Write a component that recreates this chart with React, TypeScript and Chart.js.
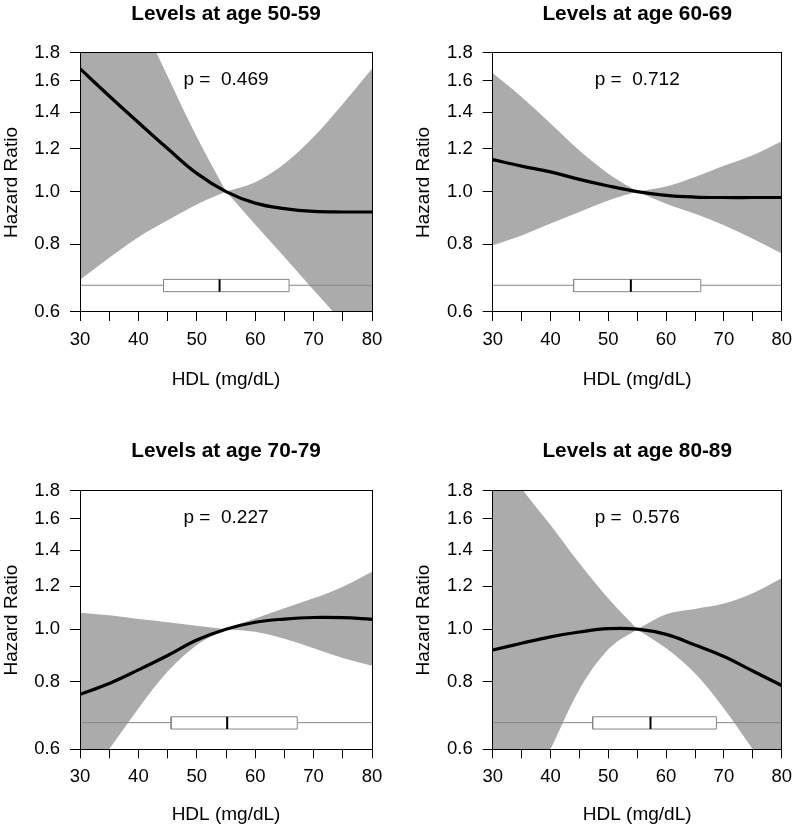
import React, { useEffect, useRef } from 'react';
import { Chart, registerables } from 'chart.js';

Chart.register(...registerables);
Chart.defaults.font.family = "'Liberation Sans', Arial, Helvetica, sans-serif";
Chart.defaults.color = '#000';

// ---------- data ----------
const HDL_X = [30, 35, 40, 45, 50, 55, 60, 65, 70, 75, 80];
const HDL_LEFT = [30, 35, 40, 45, 50, 55];
const HDL_RIGHT = [55, 60, 65, 70, 75, 80];
const Y_TICKS = [0.6, 0.8, 1.0, 1.2, 1.4, 1.6, 1.8];

const TITLES = ['Levels at age 50-59', 'Levels at age 60-69', 'Levels at age 70-79', 'Levels at age 80-89'];
const P_TEXT = ['p =  0.469', 'p =  0.712', 'p =  0.227', 'p =  0.576'];

// hazard ratio curves
const HR_50 = [1.684, 1.50, 1.34, 1.20, 1.08, 1.0, 0.952, 0.930, 0.919, 0.917, 0.917];
const HR_60 = [1.145, 1.114, 1.087, 1.053, 1.024, 1.0, 0.984, 0.977, 0.975, 0.975, 0.975];
const HR_70 = [0.758, 0.794, 0.841, 0.894, 0.955, 1.0, 1.030, 1.044, 1.051, 1.050, 1.043];
const HR_80 = [0.915, 0.942, 0.968, 0.988, 1.002, 1.0, 0.978, 0.935, 0.890, 0.837, 0.787];

// confidence band, left of reference (30..55)
const UPPER_L_50 = [3.8, 2.84, 2.13, 1.63, 1.26, 1.0];
const LOWER_L_50 = [0.688, 0.755, 0.824, 0.885, 0.947, 1.0];
const UPPER_L_60 = [1.654, 1.494, 1.335, 1.19, 1.079, 1.0];
const LOWER_L_60 = [0.796, 0.830, 0.873, 0.917, 0.963, 1.0];
const UPPER_L_70 = [1.072, 1.061, 1.044, 1.030, 1.015, 1.0];
const LOWER_L_70 = [0.504, 0.6, 0.714, 0.835, 0.935, 1.0];
const UPPER_L_80 = [2.19, 1.82, 1.557, 1.323, 1.139, 1.0];
const LOWER_L_80 = [0.37, 0.47, 0.6, 0.774, 0.918, 1.0];

// confidence band, right of reference (55..80)
const UPPER_R_50 = [1.0, 1.04, 1.125, 1.26, 1.45, 1.684];
const LOWER_R_50 = [1.0, 0.870, 0.758, 0.659, 0.574, 0.50];
const UPPER_R_60 = [1.0, 1.022, 1.064, 1.116, 1.167, 1.238];
const LOWER_R_60 = [1.0, 0.950, 0.910, 0.867, 0.819, 0.769];
const UPPER_R_70 = [1.0, 1.047, 1.093, 1.14, 1.198, 1.277];
const LOWER_R_70 = [1.0, 0.989, 0.96, 0.922, 0.885, 0.856];
const UPPER_R_80 = [1.0, 1.066, 1.09, 1.115, 1.165, 1.242];
const LOWER_R_80 = [1.0, 0.922, 0.829, 0.714, 0.6, 0.5];

// HDL distribution boxplot (quartiles, median, whisker ends)
const BOX_Q1 = [44.3, 44.0, 45.6, 47.3];
const BOX_MED = [53.9, 53.9, 55.2, 57.3];
const BOX_Q3 = [65.8, 66.0, 67.2, 68.7];
const WHISKER_MIN = [30, 30, 30, 30];
const WHISKER_MAX = [80, 80, 80, 80];

const SERIES = [
  { hr: HR_50, ul: UPPER_L_50, ll: LOWER_L_50, ur: UPPER_R_50, lr: LOWER_R_50 },
  { hr: HR_60, ul: UPPER_L_60, ll: LOWER_L_60, ur: UPPER_R_60, lr: LOWER_R_60 },
  { hr: HR_70, ul: UPPER_L_70, ll: LOWER_L_70, ur: UPPER_R_70, lr: LOWER_R_70 },
  { hr: HR_80, ul: UPPER_L_80, ll: LOWER_L_80, ur: UPPER_R_80, lr: LOWER_R_80 },
];

// ---------- layout / style ----------
const BOX_LEVEL = 0.672;
const BOX_LO = 0.654;
const BOX_HI = 0.689;
const P_POS = { x: 55, y: 1.57 };

const PANELS = [
  { left: 0, top: 0, h: 415, plotL: 80, plotR: 372, plotB: 312, tTop: 2, tBot: 27, xPad: 24, yPad: 0 },
  { left: 400, top: 0, h: 415, plotL: 92.7, plotR: 384.3, plotB: 312, tTop: 2, tBot: 27, xPad: 24, yPad: 12.6 },
  { left: 0, top: 415, h: 416, plotL: 80, plotR: 372, plotB: 334.3, tTop: 24.4, tBot: 27.6, xPad: 4.6, yPad: 0 },
  { left: 400, top: 415, h: 416, plotL: 92.7, plotR: 384.3, plotB: 334.3, tTop: 24.4, tBot: 27.6, xPad: 4.6, yPad: 12.6 },
];

const BAND = '#ababab';
const BOX_COLOR = '#868686';

const pts = (xs: number[], ys: number[]) => xs.map((x, i) => ({ x, y: ys[i] }));

const align = (v: number) => Math.round(v - 0.5) + 0.5;

const framePlugin = {
  id: 'frame',
  afterDatasetsDraw(chart: any) {
    const { ctx, chartArea: a } = chart;
    ctx.save();
    ctx.strokeStyle = '#000';
    ctx.lineWidth = 1;
    const l = align(a.left), r = align(a.right), t = align(a.top), b = align(a.bottom);
    ctx.strokeRect(l, t, r - l, b - t);
    ctx.restore();
  },
};

const pTextPlugin = {
  id: 'pText',
  afterDatasetsDraw(chart: any, _args: any, opts: any) {
    const { ctx, scales } = chart;
    ctx.save();
    ctx.font = "19px 'Liberation Sans', Arial, sans-serif";
    ctx.fillStyle = '#000';
    ctx.textAlign = 'center';
    ctx.textBaseline = 'alphabetic';
    ctx.fillText(opts.text, scales.x.getPixelForValue(opts.x), scales.y.getPixelForValue(opts.y));
    ctx.restore();
  },
};

function Panel({ idx }: { idx: number }) {
  const ref = useRef<HTMLCanvasElement | null>(null);
  const p = PANELS[idx];
  useEffect(() => {
    const s = SERIES[idx];
    const bandLine = {
      type: 'line',
      borderWidth: 0,
      borderColor: 'rgba(0,0,0,0)',
      backgroundColor: BAND,
      pointRadius: 0,
      cubicInterpolationMode: 'monotone',
      capBezierPoints: false,
    };
    const datasets: any[] = [
      { ...bandLine, data: pts(HDL_LEFT, s.ll), fill: false, order: 10 },
      { ...bandLine, data: pts(HDL_LEFT, s.ul), fill: '-1', order: 9 },
      { ...bandLine, data: pts(HDL_RIGHT, s.lr), fill: false, order: 8 },
      { ...bandLine, data: pts(HDL_RIGHT, s.ur), fill: '-1', order: 7 },
      {
        type: 'line',
        data: [{ x: WHISKER_MIN[idx], y: BOX_LEVEL }, { x: WHISKER_MAX[idx], y: BOX_LEVEL }],
        borderColor: BOX_COLOR, borderWidth: 1, pointRadius: 0, fill: false, order: 4,
      },
      {
        type: 'line',
        data: [
          { x: BOX_Q1[idx], y: BOX_LO }, { x: BOX_Q3[idx], y: BOX_LO },
          { x: BOX_Q3[idx], y: BOX_HI }, { x: BOX_Q1[idx], y: BOX_HI },
          { x: BOX_Q1[idx], y: BOX_LO },
        ],
        borderColor: BOX_COLOR, backgroundColor: '#ffffff', borderWidth: 1, pointRadius: 0,
        fill: 'shape', tension: 0, borderJoinStyle: 'miter', order: 3,
      },
      {
        type: 'line',
        data: [{ x: BOX_MED[idx], y: BOX_LO }, { x: BOX_MED[idx], y: BOX_HI }],
        borderColor: '#000', borderWidth: 2, pointRadius: 0, fill: false, order: 2,
      },
      {
        type: 'line',
        data: pts(HDL_X, s.hr),
        borderColor: '#000', borderWidth: 3.2, pointRadius: 0, fill: false,
        tension: 0.4, borderJoinStyle: 'round', order: 1,
      },
    ];

    const chart = new Chart(ref.current as HTMLCanvasElement, {
      type: 'line',
      data: { datasets },
      plugins: [framePlugin, pTextPlugin],
      options: {
        animation: false,
        responsive: false,
        maintainAspectRatio: false,
        events: [],
        layout: { padding: { left: 0, right: 400 - p.plotR, top: 0, bottom: 0 } },
        plugins: {
          legend: { display: false },
          tooltip: { enabled: false },
          title: {
            display: true,
            text: TITLES[idx],
            fullSize: false,
            color: '#000',
            font: { size: 20.8, weight: 'bold', lineHeight: 1.2 },
            padding: { top: p.tTop - 0.5, bottom: p.tBot - 0.5 },
          },
          pText: { text: P_TEXT[idx], x: P_POS.x, y: P_POS.y },
        } as any,
        scales: {
          x: {
            type: 'linear',
            min: 30,
            max: 80,
            afterFit: (sc: any) => { sc.height = p.h - p.plotB; },
            ticks: {
              stepSize: 5,
              autoSkip: false,
              maxRotation: 0,
              padding: 8,
              color: '#000',
              font: { size: 18.5, lineHeight: 1.2 },
              callback: (v: any) => (Number(v) % 10 === 0 ? String(v) : ''),
            },
            grid: { display: true, drawOnChartArea: false, drawTicks: true, tickLength: 9, tickColor: '#000', tickWidth: 1, color: '#000' },
            border: { display: true, color: '#000', width: 1 },
            title: {
              display: true, text: 'HDL (mg/dL)', color: '#000',
              font: { size: 19, lineHeight: 1.2 }, padding: { top: 0, bottom: p.xPad },
            },
          },
          y: {
            type: 'logarithmic',
            min: 0.6,
            max: 1.8,
            afterFit: (sc: any) => { sc.width = p.plotL; },
            afterBuildTicks: (sc: any) => { sc.ticks = Y_TICKS.map((v) => ({ value: v })); },
            ticks: {
              autoSkip: false,
              padding: 10,
              color: '#000',
              font: { size: 18.5, lineHeight: 1.2 },
              callback: (v: any) => Number(v).toFixed(1),
            },
            grid: { display: true, drawOnChartArea: false, drawTicks: true, tickLength: 10, tickColor: '#000', tickWidth: 1, color: '#000' },
            border: { display: true, color: '#000', width: 1 },
            title: {
              display: true, text: 'Hazard Ratio', color: '#000',
              font: { size: 19, lineHeight: 1.2 }, padding: { top: p.yPad, bottom: 0 },
            },
          },
        },
      } as any,
    } as any);
    return () => chart.destroy();
  }, [idx]);
  return (
    <canvas
      ref={ref}
      width={400}
      height={p.h}
      style={{ position: 'absolute', left: p.left, top: p.top, width: 400, height: p.h, display: 'block' }}
    />
  );
}

export default function App() {
  return (
    <div style={{ position: 'absolute', left: 0, top: 0, width: 800, height: 831, background: '#fff', overflow: 'hidden' }}>
      {PANELS.map((_, i) => (
        <Panel key={i} idx={i} />
      ))}
    </div>
  );
}
